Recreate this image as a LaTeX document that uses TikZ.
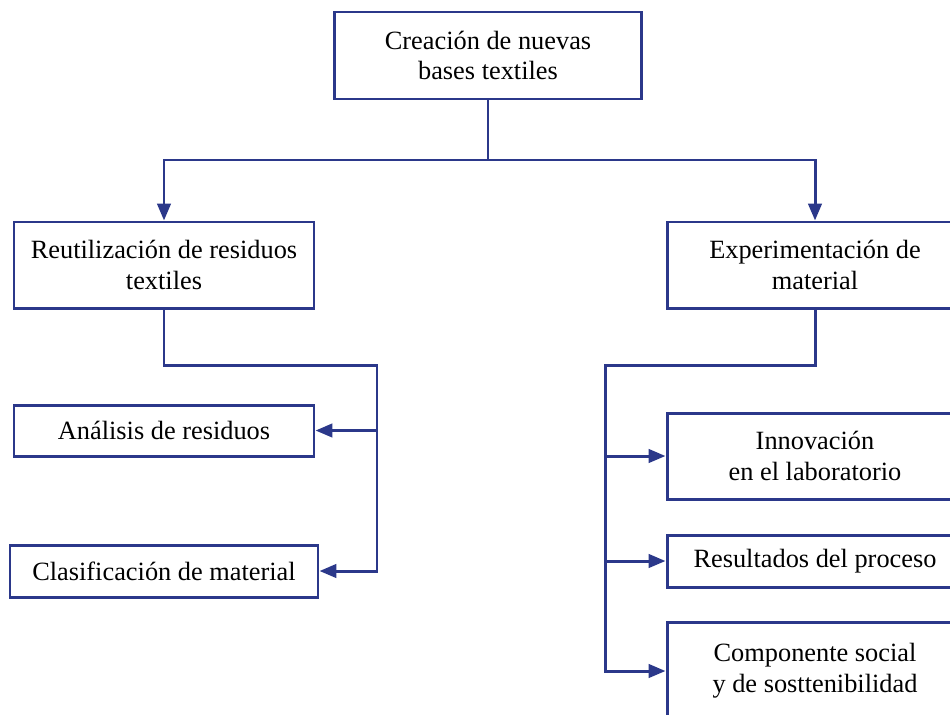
\documentclass[tikz,border=0pt]{standalone}
\usepackage{fontspec}
\setmainfont{Liberation Serif}
\usetikzlibrary{arrows.meta,positioning}
\definecolor{navy}{RGB}{43,56,138}

\begin{document}
\begin{tikzpicture}[x=0.02cm, y=-0.02cm,
		box/.style={draw=navy, line width=1.7pt, rectangle, align=center, inner sep=0pt, font=\fontsize{15pt}{17.5pt}\selectfont},
		link/.style={draw=navy, line width=1.7pt, line cap=rect},
		arr/.style={link, -{Triangle[length=0.34cm, width=0.27cm]}}]
				\useasboundingbox (0,0) rectangle (950,714);
				\clip (0,0) rectangle (950,714);
				% top
				\node[box, minimum width=307*0.02cm, minimum height=87*0.02cm] (top)at(488, 55.5) {Creación de nuevas\\bases textiles};
				% second level
				\node[box, minimum width=300*0.02cm, minimum height=86*0.02cm] (reut)at(164, 265) {Reutilización de residuos\\textiles};
				\node[box, minimum width=296*0.02cm, minimum height=86*0.02cm] (exp)at(815, 265) {Experimentación de\\material};
				% left branch
				\node[box, minimum width=300*0.02cm, minimum height=51*0.02cm] (anal)at(164, 430.5) {Análisis de residuos};
				\node[box, minimum width=308*0.02cm, minimum height=52*0.02cm] (clas)at(164, 571) {Clasificación de material};
				% right branch
				\node[box, minimum width=296*0.02cm, minimum height=86*0.02cm] (innov)at(815, 456) {Innovación\\en el laboratorio};
				\node[box, minimum width=296*0.02cm, minimum height=52*0.02cm] (resul)at(815, 561) {Resultados del proceso};
				\node[box, minimum width=296*0.02cm, minimum height=98*0.02cm] (comp)at(815, 671) {Componente social\\y de sosttenibilidad};
				% connectors
				\coordinate (splitT) at (488, 160);
				\coordinate (busL) at (377, 365);
				\coordinate (busR) at (605, 365);
				\draw[link] (top.south) -- (splitT);
				\draw[arr] (splitT) -| (reut.north);
				\draw[arr] (splitT) -| (exp.north);
				\draw[link] (reut.south) |- (busL);
				\draw[arr] (busL) |- (clas.east);
				\draw[arr] (busL |- anal.east) -- (anal.east);
				\draw[link] (exp.south) |- (busR);
				\draw[arr] (busR) |- (comp.west);
				\draw[arr] (busR |- innov.west) -- (innov.west);
				\draw[arr] (busR |- resul.west) -- (resul.west);
			\end{tikzpicture}
\end{document}
